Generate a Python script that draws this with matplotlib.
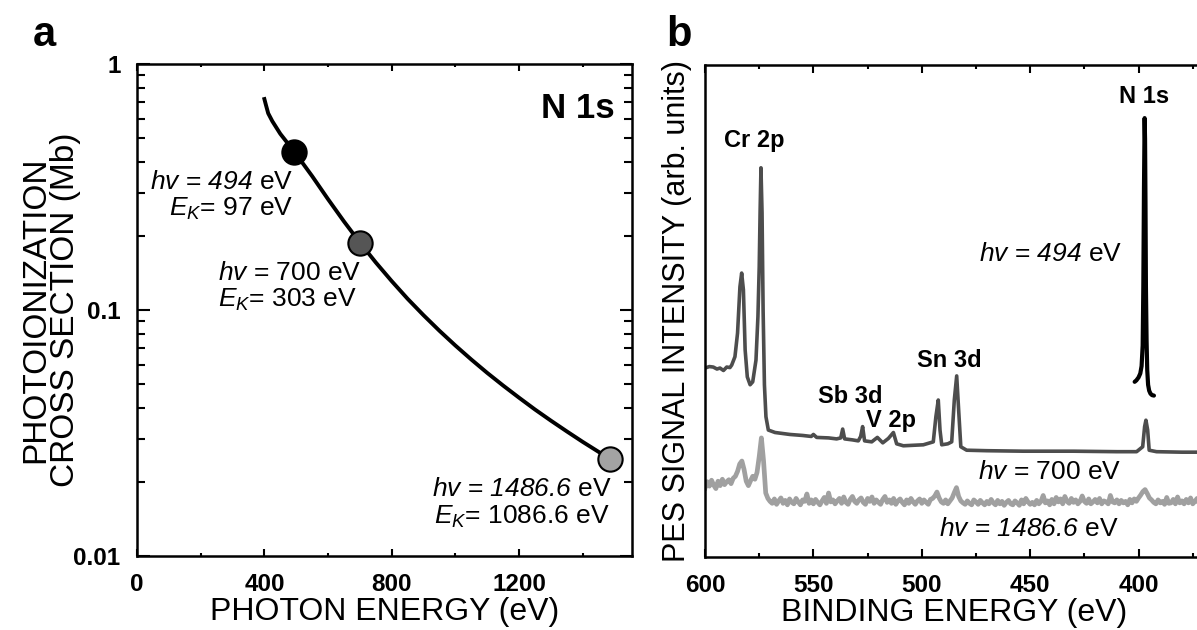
import numpy as np
import matplotlib
matplotlib.use("Agg")
import matplotlib.pyplot as plt
from matplotlib.ticker import FixedLocator, FixedFormatter, NullFormatter

plt.rcParams.update({
    "font.family": "Liberation Sans",
    "mathtext.fontset": "custom",
    "mathtext.rm": "Liberation Sans",
    "mathtext.it": "Liberation Sans:italic",
    "mathtext.bf": "Liberation Sans:bold",
    # italic digits (mathit would fall back to upright for numbers)
    "mathtext.sf": "Liberation Sans:italic",
})

# ---------------- panel a: N 1s photoionization cross section ----------------
photon_energy = [400, 405, 412, 425, 450, 494, 550, 600, 650, 700, 750, 800, 850,
                 900, 950, 1000, 1050, 1100, 1150, 1200, 1250, 1300, 1350, 1400,
                 1450, 1486.6]
cross_section = [0.72, 0.68, 0.63, 0.585, 0.52, 0.44, 0.35, 0.282, 0.229, 0.188,
                 0.156, 0.131, 0.111, 0.0952, 0.0823, 0.0717, 0.0629, 0.0555,
                 0.0493, 0.0440, 0.0394, 0.0355, 0.0321, 0.0291, 0.0265, 0.0248]

probe_energy = [494, 700, 1486.6]
probe_sigma = [0.44, 0.188, 0.0248]
probe_colors = ["#000000", "#555555", "#a3a3a3"]

# ---------------- panel b: survey spectra ----------------
# hv = 700 eV
be_700 = [600, 598, 596.2, 594.5, 593.1, 591.5, 590.0, 588.5, 587.7, 586.2, 585.0,
          583.9, 583.1, 582.3, 581.5, 580.5, 579.2, 578.0, 576.5, 575.6, 575.0,
          574.6, 574.2, 573.7, 573.2, 572.6, 571.9, 570.8, 567.7, 560.8, 555, 551,
          550.0, 548.5, 543, 539.3, 537.4, 536.5, 535.6, 532, 529.3, 528.2, 527.3,
          526.4, 523.1, 520.5, 518.0, 515.4, 513.1, 511.6, 508.5, 504, 499.3,
          494.7, 493.5, 492.4, 491.6, 490.8, 488, 486.2, 485.0, 483.9, 483.0,
          482.0, 479.3, 470, 453.2, 430, 410, 400.9, 398.1, 397.2, 396.6, 395.8,
          395.1, 391.7, 380, 371]
int_700 = [38.4, 38.7, 38.6, 38.2, 38.4, 37.9, 38.6, 38.5, 39.0, 40.7, 45.5,
           54.9, 57.7, 54.3, 42.1, 36.6, 35.0, 35.6, 40.0, 48.8, 59.0,
           70.0, 79.1, 70.0, 50.0, 35.0, 28.5, 25.8, 25.3, 24.9, 24.7, 24.5,
           24.9, 24.3, 24.2, 24.0, 24.2, 26.0, 24.0, 23.8, 23.6, 24.5, 26.5,
           23.6, 23.4, 24.3, 23.2, 24.1, 25.3, 23.0, 22.6, 22.7, 22.8,
           23.4, 28.5, 31.9, 25.8, 22.8, 23.0, 23.4, 31.9, 36.8, 29.9,
           22.4, 21.7, 21.6, 21.5, 21.5, 21.4, 21.4, 22.4, 26.5, 27.8, 25.8,
           21.7, 21.4, 21.3, 21.3]

# hv = 494 eV, N 1s window only
be_494 = [401.8, 401.0, 400.0, 399.2, 398.6, 398.1, 397.8, 397.5, 397.2, 397.0,
          396.8, 396.6, 396.3, 396.0, 395.6, 395.1, 394.5, 393.8, 392.9]
int_494 = [35.6, 35.9, 36.5, 37.3, 38.8, 43.0, 55.0, 75.0, 89.2, 85.0,
           72.0, 55.0, 44.0, 38.0, 35.0, 33.8, 33.2, 32.9, 32.8]

# hv = 1486.6 eV (Al Ka), 1 eV steps from 600 eV down to 371 eV
be_1486 = np.arange(600, 370, -1)
int_1486 = [
    14.0, 15.3, 14.4, 15.6, 14.6, 13.9, 15.4, 14.5, 15.8, 14.7,
    15.3, 15.7, 14.9, 16.0, 16.4,
    17.4, 18.9, 19.5, 17.8, 15.4, 14.5,
    15.5, 16.4, 15.8, 17.2, 20.4, 24.2, 19.5, 13.0, 11.9, 11.3,
    10.9, 11.8, 10.7, 11.4, 12.0, 10.9, 11.5, 10.6, 11.8, 11.1,
    10.8, 11.9, 11.2, 10.6, 11.6, 11.3, 12.8, 10.9, 11.6, 10.8,
    11.7, 11.1, 10.6, 11.4, 12.1, 10.9, 13.0, 11.2, 11.6, 10.8,
    11.4, 11.9, 10.9, 12.2, 11.1, 10.7, 11.7, 12.3, 11.3, 10.9,
    11.6, 12.0, 11.1, 10.7, 11.9, 11.3, 12.2, 10.9, 11.6, 11.1,
    10.7, 11.7, 12.3, 11.1, 11.6, 10.9, 11.9, 10.7, 11.4, 11.8,
    11.1, 10.6, 11.6, 10.9, 11.9, 11.2, 10.7, 11.4, 11.8, 10.9,
    11.6, 11.1, 10.7, 11.7, 11.9, 12.4, 13.2, 12.0, 11.2, 10.9,
    11.6, 10.8, 11.4, 12.0, 13.1, 14.1, 12.3, 11.4, 11.0, 10.7,
    11.4, 10.9, 10.6, 11.6, 11.2, 10.7, 11.5, 11.0, 10.6, 11.3,
    10.8, 11.7, 11.0, 10.6, 11.5, 10.8, 11.3, 10.5, 11.1, 11.5,
    10.8, 10.6, 11.4, 11.0, 10.5, 11.6, 10.8, 11.9, 11.2, 10.7,
    11.1, 10.6, 11.5, 10.8, 11.3, 12.5, 11.0, 11.4, 10.6, 11.7,
    10.8, 12.1, 11.2, 11.8, 10.8, 12.3, 11.3, 10.9, 11.9, 11.1,
    11.6, 10.8, 11.3, 12.4, 11.3, 10.9, 11.8, 10.8, 11.2, 11.7,
    11.0, 11.9, 10.8, 11.4, 11.2, 10.8, 12.5, 11.2, 11.0, 11.6,
    10.8, 11.5, 11.0, 11.3, 10.6, 11.7, 11.0, 11.8, 11.3, 12.0,
    12.6, 13.3, 13.7, 12.9, 12.0, 11.6, 11.1, 10.8, 11.6, 11.0,
    11.3, 10.7, 12.1, 10.9, 11.0, 11.7, 10.8, 12.2, 11.0, 11.4,
    10.8, 11.7, 11.0, 12.0, 10.8, 11.3, 11.9, 10.7, 11.4,
]

peak_labels = ["Cr 2p", "Sb 3d", "V 2p", "Sn 3d", "N 1s"]
peak_label_be = [577.5, 533.0, 514.2, 487.3, 397.4]
peak_label_int = [84.7, 32.6, 27.8, 40.0, 93.6]

fig = plt.figure(figsize=(11.97, 6.3), dpi=100)

# ---------- panel a ----------
axL = fig.add_axes([0.1145, 0.1175, 0.4135, 0.781])
axL.plot(photon_energy, cross_section, color="black", lw=2.8, zorder=2)
for e, s, c in zip(probe_energy, probe_sigma, probe_colors):
    axL.plot(e, s, "o", ms=17.5, mfc=c, mec="black", mew=1.5, zorder=3)

axL.set_yscale("log")
axL.set_xlim(0, 1555)
axL.set_ylim(0.01, 1)
axL.xaxis.set_major_locator(FixedLocator([0, 400, 800, 1200]))
axL.xaxis.set_minor_locator(FixedLocator([200, 600, 1000, 1400]))
axL.xaxis.set_major_formatter(FixedFormatter(["0", "400", "800", "1200"]))
axL.yaxis.set_major_locator(FixedLocator([0.01, 0.1, 1]))
axL.yaxis.set_major_formatter(FixedFormatter(["0.01", "0.1", "1"]))
yminor = [m * d for d in (0.01, 0.1) for m in range(2, 10)]
axL.yaxis.set_minor_locator(FixedLocator(yminor))
axL.yaxis.set_minor_formatter(NullFormatter())
axL.tick_params(which="both", direction="in", top=True, right=True, width=1.5,
                labelsize=17.5, pad=12)
axL.tick_params(axis="x", which="major", length=5)
axL.tick_params(axis="x", which="minor", length=2.5)
axL.tick_params(axis="y", which="major", length=9)
axL.tick_params(axis="y", which="minor", length=6)
for lab in axL.get_xticklabels() + axL.get_yticklabels():
    lab.set_fontweight("bold")
for sp in axL.spines.values():
    sp.set_linewidth(1.8)

axL.set_xlabel("PHOTON ENERGY (eV)", fontsize=23, labelpad=1)
axL.set_ylabel("PHOTOIONIZATION\nCROSS SECTION (Mb)", fontsize=24, linespacing=0.95)
axL.yaxis.set_label_coords(-0.113, 0.5)

axL.text(1500, 0.66, "N 1s", fontsize=25, fontweight="bold", ha="right", va="center")

ann = 19
axL.text(492, 0.33, r"$hv$ = $\mathsf{494}$ eV", fontsize=ann, ha="right", va="center")
axL.text(490, 0.257, r"$E_K$= 97 eV", fontsize=ann, ha="right", va="center")
axL.text(253, 0.1416, r"$hv$ = 700 eV", fontsize=ann, ha="left", va="center")
axL.text(253, 0.110, r"$E_K$= 303 eV", fontsize=ann, ha="left", va="center")
axL.text(1492, 0.0187, r"$hv$ = $\mathsf{1486.6}$ eV", fontsize=ann, ha="right", va="center")
axL.text(1485, 0.0144, r"$E_K$= 1086.6 eV", fontsize=ann, ha="right", va="center")

# ---------- panel b ----------
axR = fig.add_axes([0.589, 0.1159, 0.4165, 0.781])
axR.plot(be_1486, int_1486, color="#a0a0a0", lw=3.4, zorder=1)
axR.plot(be_700, int_700, color="#4d4d4d", lw=2.6, zorder=2)
axR.plot(be_494, int_494, color="black", lw=3.0, zorder=3, solid_capstyle="round")

axR.set_xlim(600, 370)
axR.set_ylim(0, 100)
axR.xaxis.set_major_locator(FixedLocator([600, 550, 500, 450, 400]))
axR.xaxis.set_major_formatter(FixedFormatter(["600", "550", "500", "450", "400"]))
axR.xaxis.set_minor_locator(FixedLocator([575, 525, 475, 425, 375]))
axR.set_yticks([])
axR.tick_params(axis="x", which="both", direction="in", top=True, width=1.5,
                labelsize=17.5, pad=12)
axR.tick_params(axis="x", which="major", length=6)
axR.tick_params(axis="x", which="minor", length=3)
for lab in axR.get_xticklabels():
    lab.set_fontweight("bold")
for sp in axR.spines.values():
    sp.set_linewidth(1.8)

axR.set_xlabel("BINDING ENERGY (eV)", fontsize=23, labelpad=1)
axR.set_ylabel("PES SIGNAL INTENSITY (arb. units)", fontsize=22)
axR.yaxis.set_label_coords(-0.026, 0.5)

for name, x, y in zip(peak_labels, peak_label_be, peak_label_int):
    axR.text(x, y, name, fontsize=17, fontweight="bold", ha="center", va="center")

axR.text(407.4, 61.5, r"$hv$ = $\mathsf{494}$ eV", fontsize=ann, ha="right", va="center")
axR.text(408.0, 17.3, r"$hv$ = 700 eV", fontsize=ann, ha="right", va="center")
axR.text(409.0, 5.7, r"$hv$ = $\mathsf{1486.6}$ eV", fontsize=ann, ha="right", va="center")

# panel letters
fig.text(44 / 1197, 1 - 46 / 630, "a", fontsize=30, fontweight="bold", ha="center", va="baseline")
fig.text(679 / 1197, 1 - 46 / 630, "b", fontsize=30, fontweight="bold", ha="center", va="baseline")

fig.savefig("out.png", dpi=100)
